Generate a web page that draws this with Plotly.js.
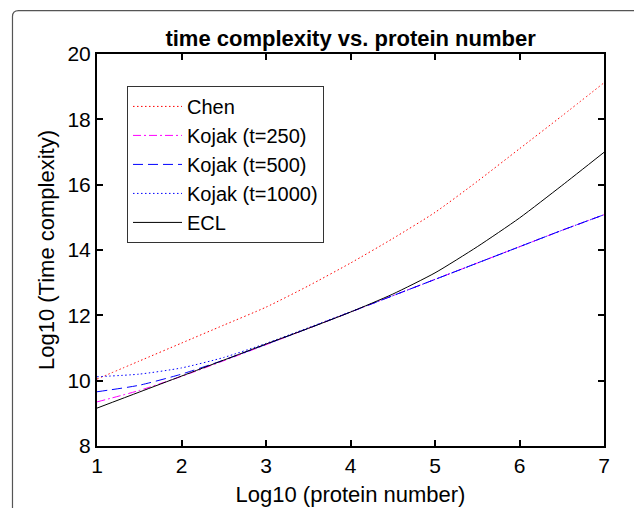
<!DOCTYPE html>
<html>
<head>
<meta charset="utf-8">
<script src="https://cdn.plot.ly/plotly-3.0.1.min.js"></script>
<style>html,body{margin:0;padding:0;background:#fff;}#chart{width:634px;height:508px;}</style>
</head>
<body>
<div id="chart"></div>
<script>
// Data
const logProteins = [1, 1.5, 2, 2.5, 3, 3.5, 4, 4.5, 5, 5.5, 6, 6.5, 7];
const chen        = [10.05, 10.6, 11.15, 11.7, 12.25, 12.9, 13.6, 14.35, 15.15, 16.1, 17.1, 18.1, 19.12];
const kojak250    = [9.35, 9.7, 10.13, 10.61, 11.1, 11.6, 12.1, 12.6, 13.1, 13.6, 14.1, 14.6, 15.08];
const kojak500    = [9.66, 9.86, 10.2, 10.63, 11.11, 11.6, 12.1, 12.6, 13.1, 13.6, 14.1, 14.6, 15.08];
const kojak1000   = [10.12, 10.2, 10.39, 10.71, 11.14, 11.62, 12.11, 12.6, 13.1, 13.6, 14.1, 14.6, 15.08];
const ecl         = [9.16, 9.65, 10.14, 10.63, 11.12, 11.6, 12.1, 12.65, 13.3, 14.1, 14.98, 15.97, 16.99];
const seriesNames = ["Chen", "Kojak (t=250)", "Kojak (t=500)", "Kojak (t=1000)", "ECL"];
const xTicks = [1, 2, 3, 4, 5, 6, 7];
const yTicks = [8, 10, 12, 14, 16, 18, 20];

const FONT = "Liberation Sans, Arial, sans-serif";

function tr(y, name, color, dash, width) {
  return {x: logProteins, y: y, name: name, type: "scatter", mode: "lines",
          line: {color: color, dash: dash, width: width, shape: "spline", smoothing: 0.6}};
}
const data = [
  tr(chen, seriesNames[0], "#ff0000", "1.5px,2.5px", 1),
  tr(kojak250, seriesNames[1], "#ff00ff", "8px,3px,2px,3px", 1),
  tr(kojak500, seriesNames[2], "#0000ff", "10px,5px", 1),
  tr(kojak1000, seriesNames[3], "#0000ff", "1.5px,2.5px", 1),
  tr(ecl, seriesNames[4], "#000000", "solid", 1)
];

const axisCommon = {
  showline: true, linecolor: "#000", linewidth: 2, mirror: "ticks",
  ticks: "inside", ticklen: 6, tickwidth: 2, tickcolor: "#000",
  showgrid: false, zeroline: false,
  tickfont: {family: FONT, size: 21, color: "#000"}
};

const layout = {
  width: 634, height: 508,
  margin: {l: 97, r: 30, t: 54, b: 62},
  paper_bgcolor: "#fff", plot_bgcolor: "#fff",
  showlegend: true,
  title: {text: "<b>time complexity vs. protein number</b>",
          font: {family: FONT, size: 22, color: "#000"},
          x: 0.553, xanchor: "center", y: 1 - 38/508, yanchor: "middle", yref: "container"},
  xaxis: Object.assign({}, axisCommon, {
    range: [1, 7], tickvals: xTicks, ticktext: xTicks.map(String),
    title: {text: "Log10 (protein number)", font: {family: FONT, size: 22, color: "#000"}, standoff: 10}
  }),
  yaxis: Object.assign({}, axisCommon, {
    range: [8, 20], tickvals: yTicks, ticktext: yTicks.map(String),
    title: {text: "Log10 (Time complexity)", font: {family: FONT, size: 22, color: "#000"}, standoff: 7}
  }),
  legend: {
    x: (127 - 97) / 507, y: (446 - 85) / 393, xanchor: "left", yanchor: "top",
    bgcolor: "#fff", bordercolor: "#333", borderwidth: 1,
    font: {family: FONT, size: 20, color: "#000"},
    itemwidth: 49, tracegroupgap: 0
  },
  shapes: [{
    type: "path", xref: "paper", yref: "paper",
    path: "M -0.1667,-0.3 L -0.1667,1.0954 Q -0.1667,1.1107 -0.1548,1.1107 L 1.2,1.1107",
    line: {color: "#555", width: 1.2}
  }]
};

Plotly.newPlot("chart", data, layout, {displayModeBar: false, staticPlot: true});
</script>
</body>
</html>
